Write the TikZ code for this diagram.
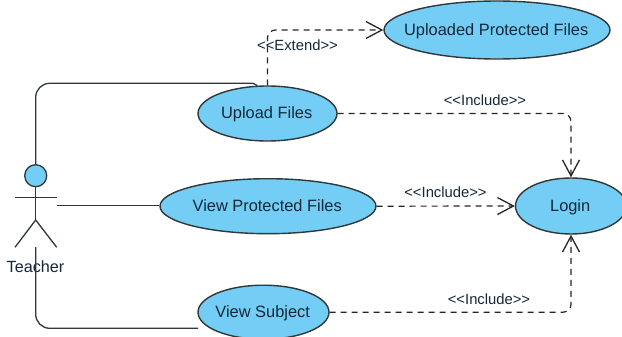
\documentclass[tikz,border=0pt]{standalone}
\usepackage{fontspec}
\setmainfont{Liberation Sans}
\usetikzlibrary{arrows.meta,shapes.geometric}
\definecolor{ucfill}{HTML}{73CDF5}
\definecolor{ucline}{HTML}{303838}
\definecolor{uctext}{HTML}{142838}
\newcommand{\uclabel}[1]{\makebox[0pt]{\raisebox{-5.4pt}[0pt][0pt]{\hspace{-1.6pt}#1}}}
\tikzset{
  usecase/.style={ellipse,draw=ucline,line width=1.4pt,fill=ucfill,inner sep=0pt,text=uctext,font=\fontsize{16.4}{18}\selectfont},
  solidlink/.style={draw=ucline,line width=1.3pt},
  deplink/.style={draw=black!85,line width=1.2pt,dash pattern=on 6pt off 5pt,rounded corners=8pt,-{Straight Barb[length=16pt,width=17pt,line width=1.3pt]}},
  deplabel/.style={inner sep=0pt,text=uctext,font=\fontsize{14.8}{17}\selectfont},
  actorlabel/.style={inner sep=0pt,text=uctext,font=\fontsize{16.2}{18}\selectfont}
}
\begin{document}
\begin{tikzpicture}[x=1pt,y=-1pt]
\useasboundingbox (0,0) rectangle (622,337);
\fill[white] (0,0) rectangle (622,337);
% use cases
\node[usecase,minimum width=139pt,minimum height=55pt] (upload) at (267.5,113.5) {\uclabel{Upload Files}};
\node[usecase,minimum width=226pt,minimum height=58pt] (uploaded) at (497,30) {\uclabel{Uploaded Protected Files}};
\node[usecase,minimum width=216pt,minimum height=55pt] (view) at (268,206.2) {\uclabel{View Protected Files}};
\node[usecase,minimum width=131pt,minimum height=54pt] (subject) at (263.5,312.2) {\uclabel{View Subject}};
\node[usecase,minimum width=111pt,minimum height=56pt] (login) at (571,206) {\uclabel{Login}};
% actor
\node[circle,draw=ucline,line width=1.3pt,fill=ucfill,minimum size=22pt,inner sep=0pt] (head) at (35.7,175.7) {};
\coordinate (hip) at (35.7,220);
\coordinate (armL) at (15,197.3);
\coordinate (armR) at (56.7,197.3);
\coordinate (footL) at (15,247.3);
\coordinate (footR) at (56.7,247.3);
\coordinate (foot) at (35.7,247);
\coordinate (handside) at (56.7,205.7);
\draw[solidlink] (head.south) -- (hip);
\draw[solidlink] (armL) -- (armR);
\draw[solidlink] (footL) -- (hip) -- (footR);
\node[actorlabel] (teacher) at (35.5,267) {Teacher};
% associations
\draw[solidlink,rounded corners=14pt] (head.north) -- (head.north |- 0,83.3) -- (253,83.3);
\draw[solidlink] (253,83.3) -- (upload.110);
\draw[solidlink] (handside) -- (view.west |- handside);
\draw[solidlink,rounded corners=14pt] (foot) -- (35.7,328.3) -- (198,328.3);
% dependencies
\draw[deplink] (upload.north) -- (upload.north |- uploaded.west) -- (uploaded.west);
\draw[deplink] (upload.east) -- (login.north |- upload.east) -- (login.north);
\draw[deplink] (view.east) -- (login.west);
\draw[deplink] (subject.east) -- (login.south |- subject.east) -- (login.south);
% labels
\node[deplabel] (extend) at (297.5,45) {<{}<Extend>{}>};
\node[deplabel] (inc1) at (485,100) {<{}<Include>{}>};
\node[deplabel] (inc2) at (445.5,192) {<{}<Include>{}>};
\node[deplabel] (inc3) at (489,299.5) {<{}<Include>{}>};
\end{tikzpicture}
\end{document}
